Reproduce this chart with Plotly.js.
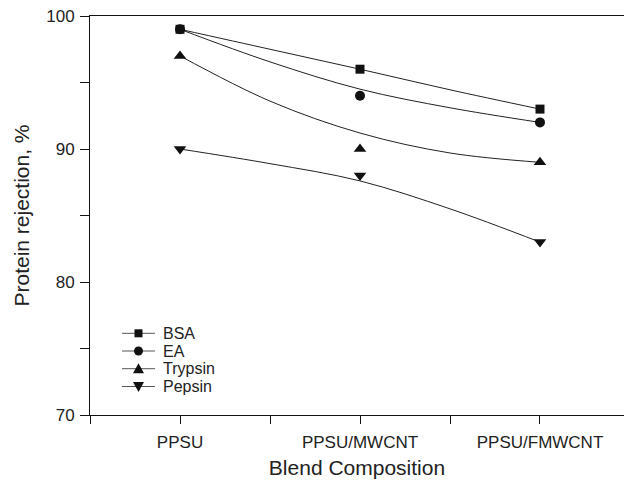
<!DOCTYPE html>
<html>
<head>
<meta charset="utf-8">
<script src="https://cdn.plot.ly/plotly-3.0.1.min.js"></script>
<style>html,body{margin:0;padding:0;background:#fff;}#chart{width:624px;height:484px;}</style>
</head>
<body>
<div id="chart"></div>
<script>
// Categories (x positions 1,2,3)
const categories = ['PPSU', 'PPSU/MWCNT', 'PPSU/FMWCNT'];
const catPos = [1, 2, 3];

// Measured protein rejection, %
const seriesNames = ['BSA', 'EA', 'Trypsin', 'Pepsin'];
const bsa = [99, 96, 93];
const ea = [99, 94, 92];
const trypsin = [97, 90, 89];
const pepsin = [90, 88, 83];

// Smooth fitted curves, at x = 1, 1.5, 2, 2.5, 3
const fitX = [1, 1.5, 2, 2.5, 3];
const bsaFit = [99, 97.5, 96.0, 94.45, 93.0];
const eaFit = [99, 96.55, 94.5, 93.1, 92.0];
const trypsinFit = [97, 93.6, 91.2, 89.7, 89.0];
const pepsinFit = [90, 88.9, 87.6, 85.5, 83.0];

// Axis ticks
const yTickVals = [70, 75, 80, 85, 90, 95, 100];
const yTickText = ['70', '', '80', '', '90', '', '100'];
const xTickVals = [0.5, 1, 1.5, 2, 2.5, 3, 3.5];
const xTickText = ['', categories[0], '', categories[1], '', categories[2], ''];

const symbols = ['square', 'circle', 'triangle-up', 'triangle-down'];
const sizes = [9, 10, 11, 11];
const values = [bsa, ea, trypsin, pepsin];
const fits = [bsaFit, eaFit, trypsinFit, pepsinFit];
const ink = '#111';

const traces = [];
for (let i = 0; i < 4; i++) {
  traces.push({
    x: fitX, y: fits[i], mode: 'lines', type: 'scatter',
    line: {color: '#222', width: 1, shape: 'spline', smoothing: 1},
    showlegend: false, hoverinfo: 'skip'
  });
  traces.push({
    x: catPos, y: values[i], mode: 'markers', type: 'scatter', name: seriesNames[i],
    marker: {symbol: symbols[i], size: sizes[i], color: ink},
    showlegend: false, cliponaxis: false
  });
}

// Hand-drawn legend (compact row spacing like the original)
const plotL = 90, plotR = 624, plotT = 16, plotB = 415;
const px2x = p => (p - plotL) / (plotR - plotL);
const px2y = p => (plotB - p) / (plotB - plotT);
const legRows = [333.3, 351, 368.7, 386.5];
const legLineX0 = 122, legLineX1 = 155, legMarkX = 138.5, legTextX = 161;
const shapes = [];
const annotations = [];
const glyphPaths = {
  'triangle-up': 'M-5.5,-4.5 L5.5,-4.5 L0,5.5 Z',
  'triangle-down': 'M-5.5,4.5 L5.5,4.5 L0,-5.5 Z'
};
seriesNames.forEach((nm, i) => {
  const yy = px2y(legRows[i]);
  shapes.push({type: 'line', xref: 'paper', yref: 'paper',
    x0: px2x(legLineX0), x1: px2x(legLineX1), y0: yy, y1: yy,
    line: {color: '#555', width: 1}});
  const common = {xref: 'paper', yref: 'paper', xsizemode: 'pixel', ysizemode: 'pixel',
    xanchor: px2x(legMarkX), yanchor: yy, fillcolor: ink, line: {width: 0}};
  if (symbols[i] === 'square') {
    shapes.push(Object.assign({type: 'rect', x0: -4, x1: 4, y0: -4, y1: 4}, common));
  } else if (symbols[i] === 'circle') {
    shapes.push(Object.assign({type: 'circle', x0: -4.5, x1: 4.5, y0: -4.5, y1: 4.5}, common));
  } else {
    shapes.push(Object.assign({type: 'path', path: glyphPaths[symbols[i]]}, common));
  }
  annotations.push({text: nm, xref: 'paper', yref: 'paper', x: px2x(legTextX), y: yy,
    xanchor: 'left', yanchor: 'middle', showarrow: false,
    font: {size: 16, color: '#222'}});
});

const layout = {
  width: 624, height: 484,
  margin: {l: 90, r: 0, t: 16, b: 69},
  paper_bgcolor: '#fff', plot_bgcolor: '#fff',
  font: {family: 'Liberation Sans, Arial, sans-serif', color: '#222', size: 16},
  showlegend: false,
  shapes: shapes,
  annotations: annotations,
  xaxis: {
    range: [0.5, 3.4667], showgrid: false, zeroline: false,
    showline: true, linecolor: '#111', linewidth: 1, mirror: true,
    tickmode: 'array', tickvals: xTickVals, ticktext: xTickText,
    ticks: 'outside', ticklen: 8, tickwidth: 1, tickcolor: '#111',
    ticklabelstandoff: 4,
    tickfont: {size: 17, color: '#222'},
    title: {text: 'Blend Composition', font: {size: 21, color: '#222'}, standoff: 8}
  },
  yaxis: {
    range: [70, 100], showgrid: false, zeroline: false,
    showline: true, linecolor: '#111', linewidth: 1,
    tickmode: 'array', tickvals: yTickVals, ticktext: yTickText,
    ticks: 'outside', ticklen: 9, tickwidth: 1, tickcolor: '#111',
    ticklabelstandoff: 2,
    tickfont: {size: 17, color: '#222'},
    title: {text: 'Protein rejection, %', font: {size: 21, color: '#222'}, standoff: 10}
  }
};

Plotly.newPlot('chart', traces, layout, {displayModeBar: false, staticPlot: true});
</script>
</body>
</html>
